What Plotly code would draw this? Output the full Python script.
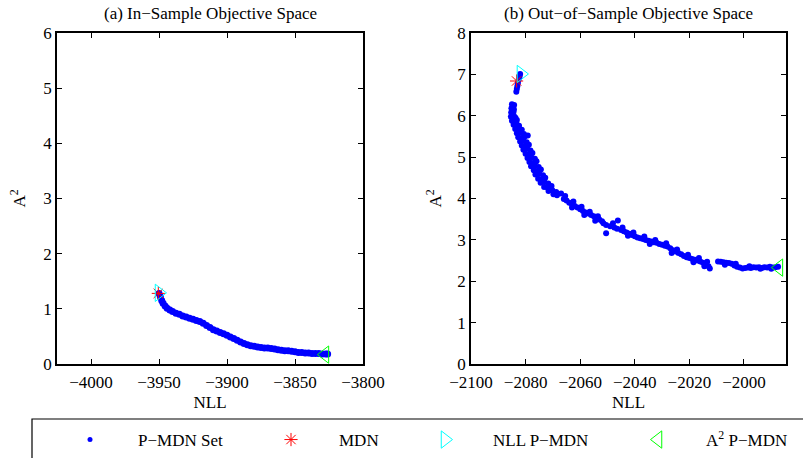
import plotly.graph_objects as go

W, H = 803, 458
FONT = "Liberation Serif"

# ---------------- data ----------------
# (a) In-sample Pareto set
in_nll = [-3950.0, -3949.0, -3948.0, -3947.0, -3945.5, -3944.0, -3942.0, -3940.0, -3937.5, -3935.0,
          -3932.5, -3930.0, -3927.5, -3925.0, -3922.5, -3920.0, -3917.5, -3915.0, -3912.5, -3910.0,
          -3907.5, -3905.0, -3902.5, -3900.0, -3897.5, -3895.0, -3892.5, -3890.0, -3887.5, -3885.0,
          -3882.5, -3880.0, -3877.5, -3875.0, -3872.5, -3870.0, -3867.5, -3865.0, -3862.5, -3860.0,
          -3857.5, -3855.0, -3852.5, -3850.0, -3847.5, -3845.0, -3842.5, -3840.0, -3837.5, -3835.0,
          -3832.5, -3830.0, -3827.5, -3826.0]
in_a2 = [1.28, 1.22, 1.15, 1.10, 1.05, 1.01, 0.98, 0.95, 0.92, 0.90,
         0.87, 0.85, 0.83, 0.81, 0.79, 0.77, 0.74, 0.70, 0.66, 0.62,
         0.60, 0.57, 0.55, 0.52, 0.49, 0.46, 0.43, 0.40, 0.37, 0.35,
         0.33, 0.32, 0.31, 0.30, 0.29, 0.29, 0.28, 0.27, 0.26, 0.25,
         0.24, 0.24, 0.23, 0.22, 0.21, 0.21, 0.20, 0.20, 0.19, 0.19,
         0.19, 0.18, 0.18, 0.18]
in_mdn = (-3950.5, 1.28)
in_nll_pmdn = (-3950.0, 1.29)
in_a2_pmdn = (-3828.0, 0.17)

# (b) Out-of-sample Pareto set
out_nll = [
    # isolated top cluster
    -2082.0, -2082.2, -2082.5, -2082.8, -2083.0, -2083.2, -2083.4,
    # steep part
    -2085.0, -2084.2, -2085.2, -2084.3, -2085.3, -2084.4,
    -2085.4, -2084.3, -2083.7, -2085.0, -2084.0, -2083.2,
    -2084.4, -2083.3, -2082.4, -2083.8, -2082.6, -2081.4,
    -2083.2, -2082.0, -2080.6, -2079.2, -2082.7, -2081.5, -2080.3,
    -2082.0, -2080.8, -2079.6, -2081.4, -2080.0, -2078.8,
    -2080.8, -2079.4, -2078.2, -2080.0, -2078.7, -2077.5,
    -2079.3, -2077.9, -2076.6, -2078.6, -2077.2, -2076.0,
    -2078.0, -2076.6, -2075.2, -2077.0, -2075.7, -2074.4,
    -2076.4, -2075.0, -2073.6, -2075.4, -2074.1, -2072.8,
    -2074.5, -2073.1, -2071.7, -2073.2, -2071.9, -2070.5,
    -2071.6, -2070.2, -2068.8, -2069.8, -2068.5, -2067.0,
    # middle part
    -2066.0, -2065.0, -2064.0, -2063.0, -2062.0, -2061.0, -2060.0, -2059.0, -2058.0, -2057.0,
    -2056.0, -2055.0, -2054.0, -2053.0, -2052.0, -2051.5, -2050.5, -2050.5, -2049.0, -2046.2,
    -2047.5, -2046.5, -2045.0, -2044.0, -2043.0, -2042.0, -2041.0, -2040.0, -2039.0, -2038.0,
    -2037.0, -2036.0, -2035.0, -2034.0, -2033.0, -2032.0, -2031.0, -2030.0, -2029.0, -2028.0,
    -2027.0, -2026.0, -2025.0, -2024.0, -2023.0, -2022.0, -2021.0, -2020.0, -2019.0, -2018.0,
    -2017.0, -2016.0, -2015.0, -2014.0, -2013.0, -2012.5,
    -2065.5, -2062.5, -2059.5, -2056.5, -2053.5, -2048.0, -2044.5, -2040.5, -2036.5, -2032.5,
    -2028.5, -2024.5, -2020.5, -2016.5, -2013.5,
    -2063.0, -2058.5, -2054.5, -2042.5, -2034.5, -2026.5, -2018.5, -2014.5,
    # flat tail
    -2009.5, -2008.5, -2007.5, -2006.5, -2005.5, -2004.5, -2003.5, -2002.5, -2001.5, -2000.5,
    -1999.5, -1998.5, -1997.5, -1996.5, -1995.5, -1994.5, -1993.5, -1992.5, -1991.5, -1990.5,
    -1989.5, -1988.5, -1987.5,
    -2007.0, -2003.0, -1998.0, -1994.0, -1990.0,
]
out_a2 = [
    7.01, 6.95, 6.88, 6.80, 6.72, 6.65, 6.58,
    6.28, 6.26, 6.18, 6.16, 6.08, 6.10,
    5.98, 6.00, 5.95, 5.88, 5.86, 5.90,
    5.78, 5.80, 5.76, 5.68, 5.70, 5.66,
    5.58, 5.60, 5.56, 5.52, 5.48, 5.46, 5.50,
    5.38, 5.40, 5.36, 5.28, 5.26, 5.30,
    5.18, 5.20, 5.16, 5.08, 5.06, 5.10,
    4.98, 5.00, 4.96, 4.88, 4.86, 4.90,
    4.78, 4.80, 4.76, 4.68, 4.66, 4.70,
    4.58, 4.60, 4.56, 4.48, 4.46, 4.50,
    4.38, 4.40, 4.36, 4.28, 4.26, 4.30,
    4.18, 4.20, 4.16, 4.10, 4.08, 4.12,
    3.99, 3.95, 3.90, 3.86, 3.82, 3.78, 3.74, 3.70, 3.66, 3.64,
    3.60, 3.57, 3.53, 3.49, 3.45, 3.40, 3.16, 3.36, 3.33, 3.47,
    3.30, 3.27, 3.24, 3.21, 3.18, 3.15, 3.12, 3.09, 3.06, 3.04,
    3.02, 3.00, 2.98, 2.96, 2.94, 2.93, 2.90, 2.88, 2.86, 2.84,
    2.80, 2.75, 2.72, 2.68, 2.65, 2.61, 2.58, 2.56, 2.54, 2.52,
    2.50, 2.48, 2.45, 2.42, 2.36, 2.31,
    4.06, 3.93, 3.80, 3.68, 3.57, 3.40, 3.30, 3.18, 3.08, 3.00,
    2.92, 2.77, 2.64, 2.56, 2.47,
    3.78, 3.60, 3.46, 3.10, 2.90, 2.68, 2.46, 2.36,
    2.48, 2.47, 2.46, 2.45, 2.44, 2.42, 2.38, 2.35, 2.33, 2.31,
    2.32, 2.33, 2.32, 2.34, 2.33, 2.34, 2.32, 2.34, 2.33, 2.35,
    2.33, 2.34, 2.35,
    2.40, 2.42, 2.36, 2.30, 2.30,
]
out_mdn = (-2083.3, 6.84)
out_nll_pmdn = (-2081.7, 7.01)
out_a2_pmdn = (-1987.2, 2.33)

titles = ["(a) In\u2212Sample Objective Space", "(b) Out\u2212of\u2212Sample Objective Space"]
names = ["P\u2212MDN Set", "MDN", "NLL P\u2212MDN", "A<sup>2</sup> P\u2212MDN"]

# ---------------- layout geometry (pixels) ----------------
ax_px = [(57, 363), (471, 786)]
top_px, bot_px = 33, 364
ydom = [(H - bot_px) / H, (H - top_px) / H]

fig = go.Figure()

sets = [
    (in_nll, in_a2, in_mdn, in_nll_pmdn, in_a2_pmdn, "x", "y", 7),
    (out_nll, out_a2, out_mdn, out_nll_pmdn, out_a2_pmdn, "x2", "y2", 6),
]
legends = ["legend", "legend2", "legend3", "legend4"]
for i, (xs, ys, mdn, nllp, a2p, xa, ya, dot) in enumerate(sets):
    show = i == 0
    fig.add_trace(go.Scatter(x=xs, y=ys, mode="markers", xaxis=xa, yaxis=ya,
                             name=names[0], showlegend=False,
                             marker=dict(color="#0000ff", size=dot, line=dict(width=0))))
    fig.add_trace(go.Scatter(x=[mdn[0]], y=[mdn[1]], mode="markers", xaxis=xa, yaxis=ya,
                             name=names[1], showlegend=show, legend=legends[1],
                             marker=dict(symbol="asterisk-open", color="#ff0000", size=11,
                                         line=dict(color="#ff0000", width=1))))
    fig.add_trace(go.Scatter(x=[nllp[0]], y=[nllp[1]], mode="markers", xaxis=xa, yaxis=ya,
                             name=names[2], showlegend=show, legend=legends[2],
                             marker=dict(symbol="triangle-right-open", color="#00ffff", size=15,
                                         line=dict(color="#00ffff", width=1))))
    fig.add_trace(go.Scatter(x=[a2p[0]], y=[a2p[1]], mode="markers", xaxis=xa, yaxis=ya,
                             name=names[3], showlegend=show, legend=legends[3],
                             marker=dict(symbol="triangle-left-open", color="#00ff00", size=15,
                                         line=dict(color="#00ff00", width=1))))

# legend entry for the P-MDN set (small dot, as in the original legend)
fig.add_trace(go.Scatter(x=[None], y=[None], mode="markers", name=names[0],
                         showlegend=True, legend=legends[0],
                         marker=dict(color="#0000ff", size=5, line=dict(width=0))))

axis_common = dict(showline=True, linecolor="black", linewidth=1.5, mirror="ticks",
                   ticks="inside", ticklen=5, tickcolor="black", tickwidth=1,
                   showgrid=False, zeroline=False, automargin=False,
                   tickfont=dict(family=FONT, size=17, color="black"),
                   title_font=dict(family=FONT, size=17, color="black"))

fig.update_layout(
    width=W, height=H, margin=dict(l=0, r=0, t=0, b=0, autoexpand=False),
    paper_bgcolor="white", plot_bgcolor="white",
    font=dict(family=FONT, size=17, color="black"),
    xaxis=dict(domain=[ax_px[0][0] / W, ax_px[0][1] / W], range=[-4025, -3800], dtick=50,
               tick0=-4000, ticklabelstandoff=2, title=dict(text="NLL", standoff=5),
               anchor="y", **axis_common),
    yaxis=dict(domain=ydom, range=[0, 6], dtick=1, title=dict(text="A<sup>2</sup>", standoff=13),
               anchor="x", **axis_common),
    xaxis2=dict(domain=[ax_px[1][0] / W, ax_px[1][1] / W], range=[-2100, -1984.6], dtick=20,
                tick0=-2100, ticklabelstandoff=2, title=dict(text="NLL", standoff=5),
                anchor="y2", **axis_common),
    yaxis2=dict(domain=ydom, range=[0, 8], dtick=1, title=dict(text="A<sup>2</sup>", standoff=11),
                anchor="x2", **axis_common),
)

# subplot titles
for i, t in enumerate(titles):
    cx = (ax_px[i][0] + ax_px[i][1]) / 2 / W
    fig.add_annotation(text=t, x=cx, y=(H - 14) / H, xref="paper", yref="paper",
                       showarrow=False, xanchor="center", yanchor="middle",
                       font=dict(family=FONT, size=17, color="black"))

# legend frame
fig.add_shape(type="rect", xref="paper", yref="paper",
              x0=32 / W, x1=1.05, y0=(H - 419) / H, y1=-0.1,
              line=dict(color="black", width=1.2), fillcolor="rgba(0,0,0,0)")

# four single-item legends placed along the frame
sym_px = [90, 291, 445, 658]
for lg, sx in zip(legends, sym_px):
    fig.update_layout({lg: dict(x=(sx - 48) / W, y=(H - 440) / H, xanchor="left", yanchor="middle",
                                orientation="h", itemwidth=86, bgcolor="rgba(0,0,0,0)",
                                borderwidth=0, font=dict(family=FONT, size=17, color="black"))})

fig.write_html("out.html")
